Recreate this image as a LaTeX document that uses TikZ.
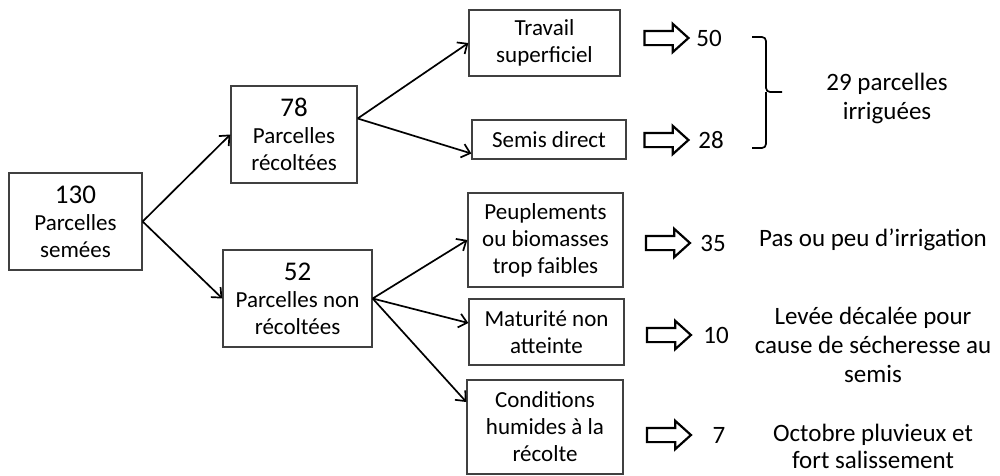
\documentclass[tikz,border=0pt]{standalone}
\usepackage{fontspec}
\setmainfont{Carlito}
\usetikzlibrary{arrows.meta,shapes.arrows}
\tikzset{every picture/.style={line width=0.75pt}}
\tikzset{
  boite/.style={draw=black!75, line width=1.3pt, align=center, inner sep=0pt, font=\fontsize{23}{27}\selectfont},
  fleche/.style={line width=1.7pt, -{Straight Barb[length=8pt,width=14pt,line width=1.7pt]}},
  grosse/.style={single arrow, draw, line width=2.2pt, inner xsep=0pt, inner ysep=6pt, minimum height=44pt, single arrow head extend=7pt, single arrow tip angle=84},
  nombre/.style={font=\fontsize{25}{30}\selectfont},
  texte/.style={align=center, font=\fontsize{25}{29}\selectfont},
}
\newcommand{\gros}[1]{{\fontsize{27}{30}\selectfont #1}}

\begin{document}
\begin{tikzpicture}[x=1pt, y=-1pt]
    \useasboundingbox (0,0) rectangle (1000,475);

    % boites de gauche
    \node[boite, minimum width=133pt, minimum height=97pt] (n130) at (75.5,221.5) {\gros{130}\\Parcelles\\semées};
    \node[boite, minimum width=126pt, minimum height=97pt] (n78) at (294,134.5) {\gros{78}\\Parcelles\\récoltées};
    \node[boite, minimum width=149pt, minimum height=97pt] (n52) at (297.5,298.5) {\gros{52}\\Parcelles non\\récoltées};

    % boites de droite
    \node[boite, minimum width=151pt, minimum height=66pt] (travail) at (544.5,43) {Travail\\superficiel};
    \node[boite, minimum width=154pt, minimum height=39pt] (semis) at (549,139.5) {Semis direct};
    \node[boite, minimum width=155pt, minimum height=94pt] (peupl) at (545.5,240) {Peuplements\\ou biomasses\\trop faibles};
    \node[boite, minimum width=155pt, minimum height=66pt] (matur) at (546.5,332) {Maturité non\\atteinte};
    \node[boite, minimum width=156pt, minimum height=94pt] (cond) at (545,427) {Conditions\\humides à la\\récolte};

    % fleches entre les boites
    \draw[fleche] (n130.east) -- (n78.west);
    \draw[fleche] (n130.east) -- (n52.west);
    \draw[fleche] ([yshift=16pt]n78.east) -- (travail.west);
    \draw[fleche] ([yshift=16pt]n78.east) -- ([yshift=-14pt]semis.west);
    \draw[fleche] (n52.east) -- (peupl.west);
    \draw[fleche] (n52.east) -- ([yshift=9pt]matur.west);
    \draw[fleche] (n52.east) -- ([yshift=25pt]cond.west);

    % grosses fleches et nombres
    \node[grosse] (g50) at (662.5,38) {};
    \node[grosse] (g28) at (662.5,140) {};
    \node[grosse] (g35) at (664,243) {};
    \node[grosse] (g10) at (665,335) {};
    \node[grosse] (g7) at (665,435) {};
    \node[nombre] (v50) at (709,38) {50};
    \node[nombre] (v28) at (711,140) {28};
    \node[nombre] (v35) at (713,243) {35};
    \node[nombre] (v10) at (716,335) {10};
    \node[nombre] (v7) at (719,435) {7};

    % accolade
    \draw[line width=1.7pt, rounded corners=4pt] (752,37) -- (766,37) -- (766,92) -- (782,92);
    \draw[line width=1.7pt, rounded corners=4pt] (752,148) -- (766,148) -- (766,92);

    % commentaires
    \node[texte] (irrig) at (887,98) {29 parcelles\\irriguées};
    \node[texte] (pas) at (873,240) {Pas ou peu d’irrigation};
    \node[texte] (levee) at (873,345) {Levée décalée pour\\cause de sécheresse au\\semis};
    \node[texte, font=\fontsize{25}{27}\selectfont] (octo) at (873,446) {Octobre pluvieux et\\fort salissement};
\end{tikzpicture}
\end{document}
